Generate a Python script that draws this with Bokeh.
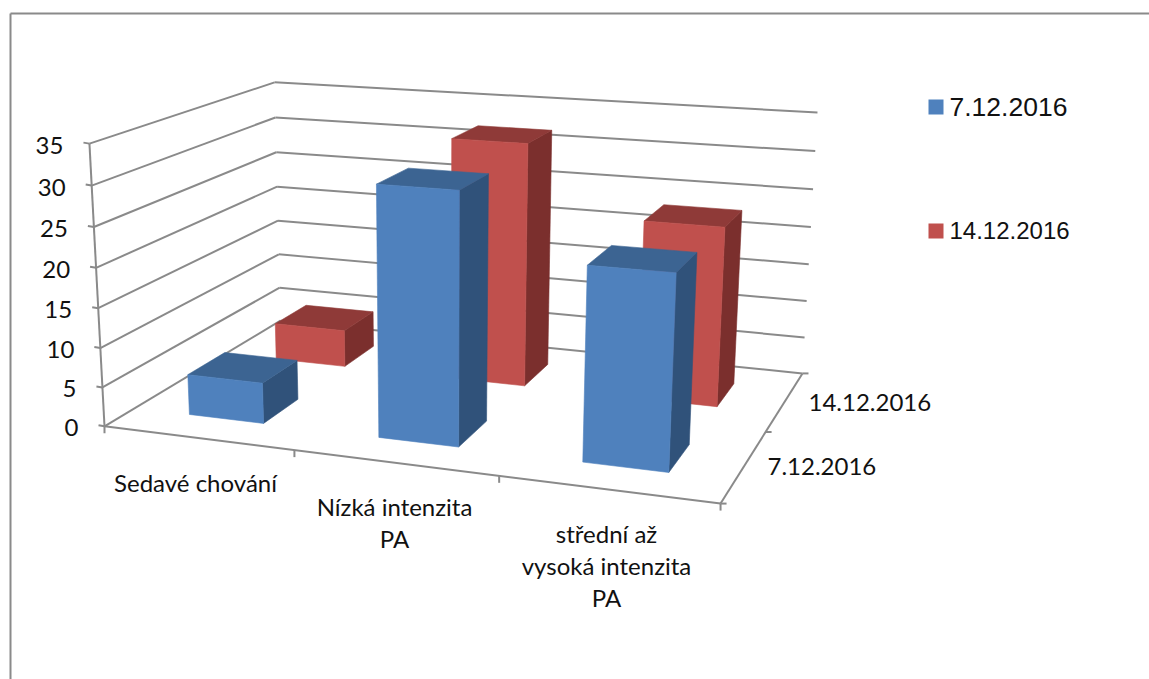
import numpy as np
from bokeh.core.properties import value
from bokeh.embed import file_html
from bokeh.models import Range1d
from bokeh.plotting import figure
from bokeh.resources import INLINE

# Chart data
categories = ["Sedavé chování", "Nízká intenzita\nPA", "střední až\nvysoká intenzita\nPA"]
series_names = ["7.12.2016", "14.12.2016"]
series_first = [5.2, 31, 23.5]
series_second = [5, 32, 23.2]
z_ticks = [0, 5, 10, 15, 20, 25, 30, 35]

# Bar footprint inside a unit cell of the floor
BAR_X = (0.30, 0.70)
BAR_Y = (0.30, 0.70)

GRID = "#8a8a8a"
TEXT_FONT = value("Lato")
FACE = {
    0: dict(front="#4f81bd", top="#3c6492", side="#30527a"),
    1: dict(front="#c0504d", top="#8f3a38", side="#7b2f2d"),
}

# Camera: scene (category, series, value) to page pixels, solved from the box corners
box = [
    ((0, 0, 0), (104, 426)), ((0, 0, 35), (89, 143)),
    ((0, 2, 0), (280, 320)), ((0, 2, 35), (274, 82)),
    ((3, 0, 0), (720, 503)), ((3, 2, 0), (802, 373)),
    ((3, 2, 35), (817, 112)),
]
rows = []
for (X, Y, Z), (u, v) in box:
    rows.append([X, Y, Z, 1, 0, 0, 0, 0, -u * X, -u * Y, -u * Z, -u])
    rows.append([0, 0, 0, 0, X, Y, Z, 1, -v * X, -v * Y, -v * Z, -v])
CAM = np.linalg.svd(np.array(rows, float))[2][-1].reshape(3, 4)


def proj(x, y, z):
    h = CAM @ np.array([x, y, z, 1.0])
    return float(h[0] / h[2]), float(h[1] / h[2])


p = figure(width=1149, height=679, x_range=Range1d(0, 1149), y_range=Range1d(679, 0),
           output_backend="svg", toolbar_location=None, min_border=0,
           outline_line_color=None, background_fill_color="white")
p.axis.visible = False
p.xgrid.visible = False
p.ygrid.visible = False


def seg(a, b, color=GRID, width=2.0):
    p.line([a[0], b[0]], [a[1], b[1]], line_color=color, line_width=width)


def quad(points, color):
    p.patch([q[0] for q in points], [q[1] for q in points], fill_color=color,
            line_color=color, line_width=0.6)


# Sheet border along the top and left
seg((10, 13), (1149, 13))
seg((10, 13), (10, 679))

# Wall gridlines, left wall and back wall
for t in z_ticks:
    a, b, c = proj(0, 0, t), proj(0, 2, t), proj(3, 2, t)
    seg(a, b)
    seg(b, c)
    seg((a[0] - 6, a[1] - 1), a)
    p.text([a[0] - 26], [a[1] + 1.5], text=[str(t)], text_font=TEXT_FONT, text_font_size="24px",
           text_align="right", text_baseline="middle", text_color="#111111")

# Floor front and right edges, plus the upright value axis
seg(proj(0, 0, 0), proj(3, 0, 0))
seg(proj(3, 0, 0), proj(3, 2, 0))
seg(proj(0, 0, 0), proj(0, 0, 35))
for i in range(4):
    a = proj(i, 0, 0)
    seg(a, (a[0], a[1] + 7))
for j in range(3):
    a = proj(3, j, 0)
    seg(a, (a[0] + 6, a[1]))

# Bars, drawn back row first so nearer bars overlap
for row, vals in ((1, series_second), (0, series_first)):
    for i, v in enumerate(vals):
        x0, x1 = i + BAR_X[0], i + BAR_X[1]
        y0, y1 = row + BAR_Y[0], row + BAR_Y[1]
        col = FACE[row]
        quad([proj(x1, y0, 0), proj(x1, y1, 0), proj(x1, y1, v), proj(x1, y0, v)], col["side"])
        quad([proj(x0, y0, v), proj(x1, y0, v), proj(x1, y1, v), proj(x0, y1, v)], col["top"])
        quad([proj(x0, y0, 0), proj(x1, y0, 0), proj(x1, y0, v), proj(x0, y0, v)], col["front"])

# Category labels
label_anchor = [(195, 482), (394, 506), (606, 533)]
for lab, (cx, cy) in zip(categories, label_anchor):
    for k, part in enumerate(lab.split("\n")):
        p.text([cx], [cy + 32 * k], text=[part], text_font=TEXT_FONT, text_font_size="24px",
               text_align="center", text_baseline="middle", text_color="#111111")

# Series labels along the right floor edge
for (lx, ly), name in zip([(767, 466), (808, 402)], series_names):
    p.text([lx], [ly], text=[name], text_font=TEXT_FONT, text_font_size="24px",
           text_align="left", text_baseline="middle", text_color="#111111")

# Legend
for (sx, sy, size), name, row in zip([(928, 99, "26.5px"), (928, 223, "24px")], series_names, (0, 1)):
    p.rect([sx + 7.5], [sy + 7.5], width=15, height=15, fill_color=FACE[row]["front"], line_color=None)
    p.text([sx + 21], [sy + 7], text=[name], text_font=value("Liberation Sans"), text_font_size=size,
           text_align="left", text_baseline="middle", text_color="#111111")

open("out.html", "w").write(file_html(p, INLINE))
